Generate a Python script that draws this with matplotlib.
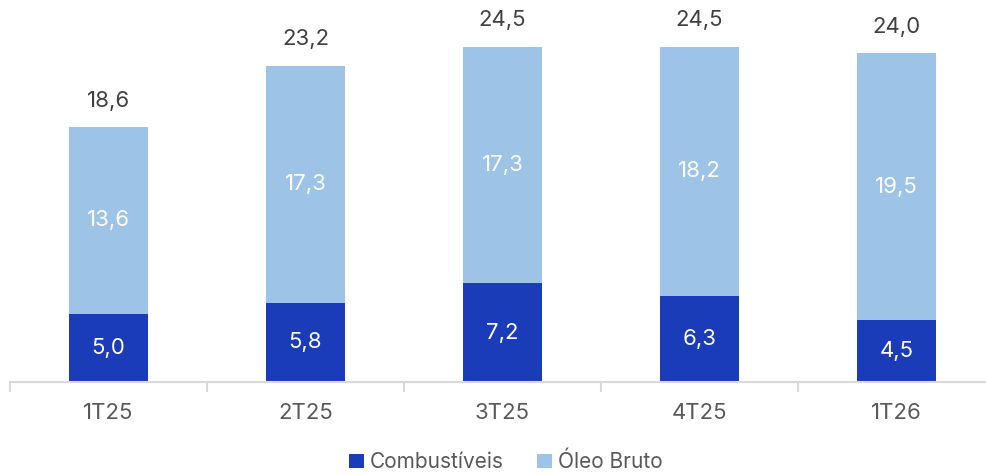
import matplotlib
matplotlib.use('Agg')
import matplotlib.pyplot as plt
import numpy as np

plt.rcParams['font.family'] = ['Inter', 'DejaVu Sans']

quarters = ['1T25', '2T25', '3T25', '4T25', '1T26']
combustiveis = [5.0, 5.8, 7.2, 6.3, 4.5]
oleo_bruto = [13.6, 17.3, 17.3, 18.2, 19.5]
totais = [18.6, 23.2, 24.5, 24.5, 24.0]

dark = '#1a3cb8'
light = '#9dc3e6'


def br(v):
    return ('%.1f' % v).replace('.', ',')


fig = plt.figure(figsize=(9.87, 4.75), dpi=100)
ax = fig.add_axes([10 / 987, 93 / 475, 985 / 987, 382 / 475])

x = np.arange(len(quarters))
b1 = ax.bar(x, combustiveis, width=0.4, color=dark, label='Combustíveis')
b2 = ax.bar(x, oleo_bruto, width=0.4, bottom=combustiveis, color=light, label='Óleo Bruto')

for i in range(len(quarters)):
    ax.text(x[i], combustiveis[i] / 2, br(combustiveis[i]), ha='center', va='center',
            color='white', fontsize=16)
    ax.text(x[i], combustiveis[i] + oleo_bruto[i] / 2, br(oleo_bruto[i]), ha='center',
            va='center', color='white', fontsize=16)
    ax.text(x[i], combustiveis[i] + oleo_bruto[i] + 1.2, br(totais[i]), ha='center',
            va='bottom', color='#404040', fontsize=16)

ax.set_xlim(-0.5, 4.5)
ax.set_ylim(0, 27.9)
ax.set_yticks([])
for s in ['top', 'right', 'left']:
    ax.spines[s].set_visible(False)
ax.spines['bottom'].set_color('#d9d9d9')
ax.spines['bottom'].set_linewidth(1.5)

ax.set_xticks(x)
ax.set_xticklabels(quarters, fontsize=16, color='#595959')
ax.tick_params(axis='x', length=0, pad=15)
ax.set_xticks(np.arange(-0.5, 5.0, 1.0), minor=True)
ax.tick_params(axis='x', which='minor', length=7, width=1.5, color='#d9d9d9')

fig.legend(handles=[b1, b2], loc='center', bbox_to_anchor=(506 / 987, 1 - 462 / 475),
           ncol=2, frameon=False, fontsize=15, handlelength=0.7, handleheight=0.7,
           handletextpad=0.3, columnspacing=1.6, labelcolor='#595959')

fig.savefig('out.png', dpi=100)
